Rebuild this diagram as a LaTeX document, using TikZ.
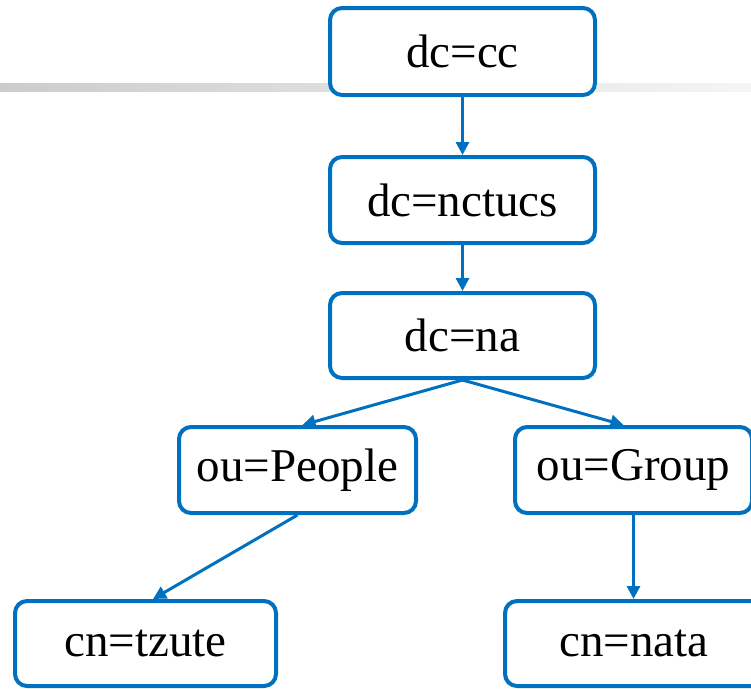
\documentclass[tikz,border=0pt]{standalone}
\usepackage{fontspec}
\setmainfont{Liberation Serif}
\usetikzlibrary{arrows.meta}
\definecolor{boxblue}{HTML}{0070C0}
\begin{document}
\begin{tikzpicture}[x=1pt,y=-1pt,
  entry/.style={draw=boxblue, line width=4pt, rounded corners=12pt, fill=white,
    inner sep=0pt, font=\fontsize{47}{52}\selectfont},
  link/.style={draw=boxblue, line width=3pt, -{Triangle[length=13pt,width=13pt]}}]
\useasboundingbox (0,0) rectangle (751,688);
\begin{scope}
\clip (0,0) rectangle (751,688);
\shade[left color=black!20, right color=black!4] (0,83) rectangle (751,91);
\node[entry, minimum width=265pt, minimum height=87pt] (cc) at (462.5,51.5) {dc=cc};
\node[entry, minimum width=265pt, minimum height=86pt] (nctucs) at (462.5,200) {dc=nctucs};
\node[entry, minimum width=265pt, minimum height=85pt] (na) at (462.5,335.5) {dc=na};
\node[entry, minimum width=237pt, minimum height=86pt] (people) at (297.5,470) {ou=People};
\node[entry, minimum width=237pt, minimum height=86pt] (group) at (633.5,470) {ou=Group};
\node[entry, minimum width=261pt, minimum height=85pt] (tzute) at (145.5,643.5) {cn=tzute};
\node[entry, minimum width=258pt, minimum height=85pt] (nata) at (634,643.5) {cn=nata};
\draw[link] (cc.south) -- (nctucs.north);
\draw[link] (nctucs.south) -- (na.north);
\draw[link] (na.south) -- ([xshift=5pt]people.north);
\draw[link] (na.south) -- ([xshift=-10pt]group.north);
\draw[link] (people.south) -- ([xshift=7.5pt]tzute.north);
\draw[link] (group.south) -- (group.south |- nata.north);
\end{scope}
\end{tikzpicture}
\end{document}
